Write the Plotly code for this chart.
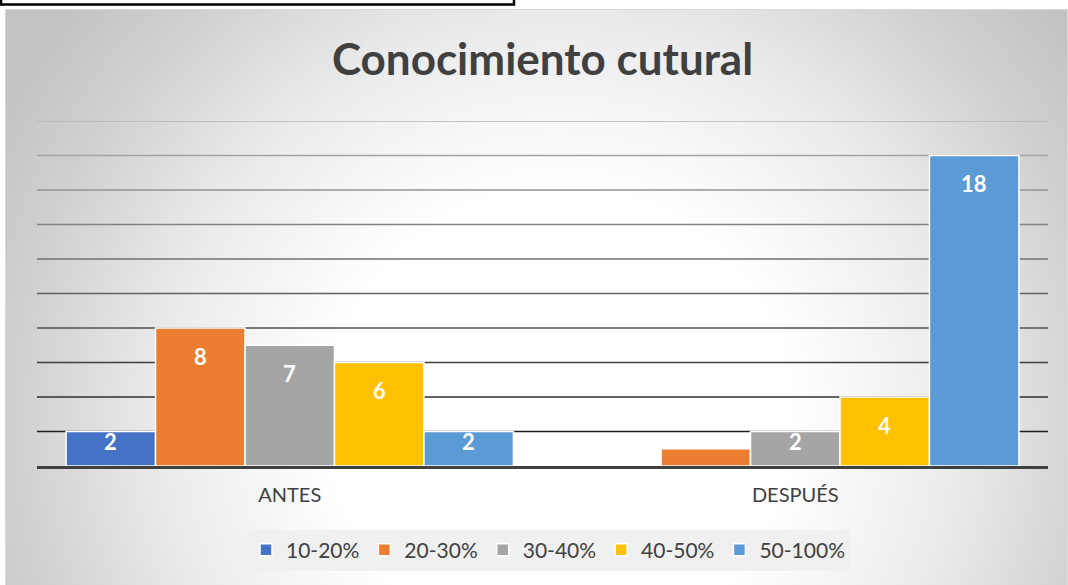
import base64
import plotly.graph_objects as go

# ---------------- data ----------------
categories = ["ANTES", "DESPUÉS"]
series_names = ["10-20%", "20-30%", "30-40%", "40-50%", "50-100%"]
s_10_20 = [2, 0]
s_20_30 = [8, 1]
s_30_40 = [7, 2]
s_40_50 = [6, 4]
s_50_100 = [2, 18]
series_values = [s_10_20, s_20_30, s_30_40, s_40_50, s_50_100]
y_ticks = [2, 4, 6, 8, 10, 12, 14, 16, 18, 20]
title_text = "Conocimiento cutural"

# ---------------- styling ----------------
colors = ["#4472C4", "#ED7D31", "#A5A5A5", "#FFC000", "#5B9BD5"]
W, H = 1068, 585
ML, MR, MT, MB = 37, 20, 121, 119
PW, PH = W - ML - MR, H - MT - MB
BARGAP = 0.115
FONT = "Lato"
TXT = "#404040"
Y_MAX = 20

fig = go.Figure()
for name, vals, col in zip(series_names, series_values, colors):
    fig.add_trace(go.Bar(
        x=categories, y=vals, name=name,
        marker=dict(color=col, line=dict(color="white", width=1.5)),
        hoverinfo="x+y+name",
    ))

# data labels (white bold, inside end)
bar_px = PW / len(categories) * (1 - BARGAP) / len(series_names)
annos = []
for i, (name, vals) in enumerate(zip(series_names, series_values)):
    for cat, v in zip(categories, vals):
        h_px = v / Y_MAX * PH
        if h_px < 30:
            continue
        annos.append(dict(
            x=cat, y=v, xref="x", yref="y", text=f"<b>{v}</b>", showarrow=False,
            xshift=(i - (len(series_names) - 1) / 2) * bar_px,
            yshift=-28 if h_px > 60 else -10,
            yanchor="middle",
            font=dict(family=FONT, size=22, color="white"),
        ))

# gridlines with a dark-to-light gradient
def lerp(a, b, t):
    return int(round(a + (b - a) * t))
shapes = []
for k, t in enumerate(y_ticks):
    f = k / (len(y_ticks) - 1)
    g = lerp(0x1e, 0xb4, f)
    shapes.append(dict(type="line", xref="paper", yref="y", x0=0, x1=1, y0=t, y1=t,
                       line=dict(color=f"rgb({g},{g},{g})", width=1.6), layer="below"))

def px_x(p):
    return (p - ML) / PW
def px_y(p):
    return (H - MB - p) / PH

# top-left box
shapes.append(dict(type="rect", xref="paper", yref="paper",
                   x0=px_x(1), x1=px_x(514), y0=px_y(4.5), y1=px_y(-10),
                   line=dict(color="black", width=2.5), fillcolor="white", layer="above"))

# radial gradient background panel
gx0, gy0, gx1, gy1 = 5, 9, 1068, 585
gw, gh = gx1 - gx0, gy1 - gy0
svg = f'''<svg xmlns="http://www.w3.org/2000/svg" width="{gw}" height="{gh}" viewBox="0 0 {gw} {gh}" preserveAspectRatio="none">
<defs><radialGradient id="g" gradientUnits="userSpaceOnUse" cx="{560-gx0}" cy="{420-gy0}" r="640">
<stop offset="0" stop-color="#ffffff"/>
<stop offset="0.36" stop-color="#ffffff"/>
<stop offset="0.62" stop-color="#ebebeb"/>
<stop offset="0.85" stop-color="#d0d0d0"/>
<stop offset="1" stop-color="#c3c3c3"/>
</radialGradient></defs>
<rect x="0" y="0" width="{gw}" height="{gh}" fill="url(#g)"/>
<rect x="0.5" y="0.5" width="{gw-1}" height="{gh+5}" fill="none" stroke="#d9d9d9" stroke-width="1"/>
</svg>'''
src = "data:image/svg+xml;base64," + base64.b64encode(svg.encode()).decode()

fig.update_layout(
    width=W, height=H,
    margin=dict(l=ML, r=MR, t=MT, b=MB),
    paper_bgcolor="white", plot_bgcolor="rgba(0,0,0,0)",
    barmode="group", bargap=BARGAP, bargroupgap=0,
    title=dict(text=f"<b>{title_text}</b>", x=0.5, xref="paper", xanchor="center",
               y=1 - 60 / H, yref="container", yanchor="middle",
               font=dict(family=FONT, size=44, color=TXT)),
    xaxis=dict(showgrid=False, showline=True, linecolor="#404040", linewidth=3,
               tickfont=dict(family=FONT, size=20, color=TXT), ticks="",
               ticklabelstandoff=9, zeroline=False),
    yaxis=dict(range=[0, Y_MAX], showgrid=False, showticklabels=False, zeroline=False,
               showline=False),
    legend=dict(orientation="h", x=px_x(548), xanchor="center", y=px_y(550), yanchor="middle",
                bgcolor="#f0f0f0", font=dict(family=FONT, size=21, color=TXT),
                itemwidth=30, traceorder="normal", borderwidth=0),
    shapes=shapes,
    annotations=annos,
    images=[dict(source=src, xref="paper", yref="paper",
                 x=px_x(gx0), y=px_y(gy0), sizex=gw / PW, sizey=gh / PH,
                 xanchor="left", yanchor="top", sizing="stretch", layer="below")],
    showlegend=True,
)

fig.write_html("out.html", config={"displayModeBar": False},
               post_script="document.body.style.margin='0';")
